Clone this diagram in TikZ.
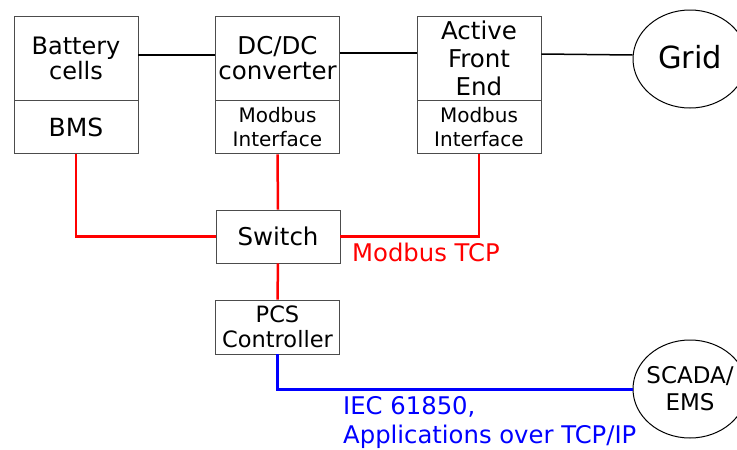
\documentclass[tikz,border=0pt]{standalone}
\usepackage{fontspec}
\setmainfont{DejaVu Sans}
\usetikzlibrary{shapes.geometric,positioning}

\tikzset{
  block/.style={draw=black!70, line width=0.9pt, minimum width=124pt, inner sep=0pt, align=center},
  upper/.style={block, minimum height=84pt, font=\fontsize{24.5}{24.5}\selectfont},
  lower/.style={block, minimum height=53pt, font=\fontsize{20}{24}\selectfont},
  ext/.style={ellipse, draw=black, line width=1pt, minimum width=114pt, minimum height=98pt, inner sep=-10pt, align=center},
  power/.style={line width=2pt},
  modbus/.style={red, line width=2.5pt},
  iec/.style={blue, line width=3pt},
}

\begin{document}
\begin{tikzpicture}[x=1pt, y=-1pt]
		\useasboundingbox (0,0) rectangle (737,450);
		% power chain {{{
		\node[upper, font=\fontsize{24}{25}\selectfont] (bat) at (76,58) {Battery\\cells};
		\node[lower, below=0pt of bat, font=\fontsize{25}{25}\selectfont] (bms) {BMS};
		\node[upper] (dcdc) at (277.5,58) {DC/DC\\converter};
		\node[lower, below=0pt of dcdc] (dcdcmb) {Modbus\\Interface};
		\node[upper, font=\fontsize{24.5}{28}\selectfont] (afe) at (479,58) {Active\\Front\\End};
		\node[lower, below=0pt of afe] (afemb) {Modbus\\Interface};
		\node[ext, font=\fontsize{30.5}{30.5}\selectfont] (grid) at (690,59) {\raisebox{4pt}{Grid}};
		\draw[power] ([yshift=3pt]bat.east) -- ([yshift=3pt]dcdc.west);
		\draw[power] ([yshift=5pt]dcdc.east) -- ([yshift=5pt]afe.west);
		\draw[line width=1.5pt] ([yshift=4pt]afe.east) -- ([yshift=4pt]grid.west);
		% }}}
		% control {{{
		\node[lower, font=\fontsize{24.5}{24.5}\selectfont] (switch) at (278,236.5) {Switch};
		\node[lower, minimum height=54pt, font=\fontsize{22.5}{25}\selectfont] (pcs) at (277.5,327) {PCS\\Controller};
		\node[ext, font=\fontsize{23}{27}\selectfont] (scada) at (690,389) {SCADA/\\EMS};
		\draw[modbus] (bms.south) |- (switch.west);
		\draw[modbus] (dcdcmb.south) -- (switch.north);
		\draw[modbus] (afemb.south) |- (switch.east);
		\draw[modbus] (switch.south) -- (pcs.north);
		\draw[iec] (pcs.south) |- (scada.west);
		\node[red, anchor=west, inner sep=0pt, font=\fontsize{24.3}{29}\selectfont] (tcp) at (352,252) {Modbus TCP};
		\node[blue, anchor=north west, align=left, inner sep=0pt, font=\fontsize{24.3}{29}\selectfont] (iectext) at (343,396) {IEC 61850,\\Applications over TCP/IP};
		% }}}
\end{tikzpicture}
\end{document}
